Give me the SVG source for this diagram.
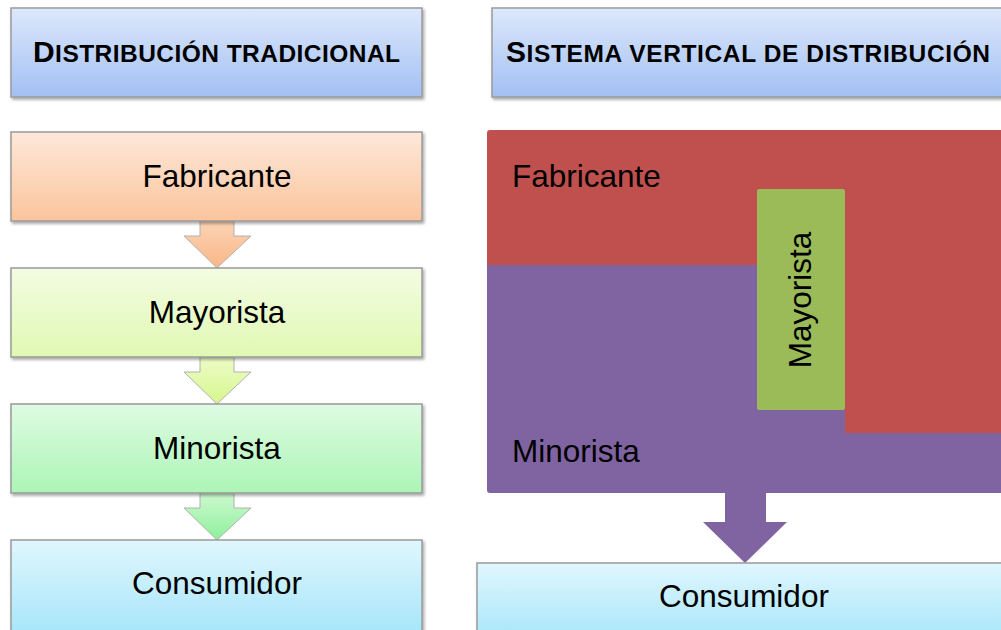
<svg xmlns="http://www.w3.org/2000/svg" width="1001" height="630" viewBox="0 0 1001 630">
<defs>
  <linearGradient id="gHead" x1="0" y1="0" x2="0" y2="1"><stop offset="0" stop-color="#dde8fb"/><stop offset="1" stop-color="#a3c0f3"/></linearGradient>
  <linearGradient id="gFab" x1="0" y1="0" x2="0" y2="1"><stop offset="0" stop-color="#fee8da"/><stop offset="1" stop-color="#fbc49c"/></linearGradient>
  <linearGradient id="gMay" x1="0" y1="0" x2="0" y2="1"><stop offset="0" stop-color="#f3fce3"/><stop offset="1" stop-color="#e0f9b2"/></linearGradient>
  <linearGradient id="gMin" x1="0" y1="0" x2="0" y2="1"><stop offset="0" stop-color="#dffbe3"/><stop offset="1" stop-color="#acf5b5"/></linearGradient>
  <linearGradient id="gCon" x1="0" y1="0" x2="0" y2="1"><stop offset="0" stop-color="#e0f7fd"/><stop offset="1" stop-color="#a5e5fa"/></linearGradient>
  <linearGradient id="gA1" x1="0" y1="0" x2="0" y2="1"><stop offset="0" stop-color="#fcd3b5"/><stop offset="1" stop-color="#f9b788"/></linearGradient>
  <linearGradient id="gA2" x1="0" y1="0" x2="0" y2="1"><stop offset="0" stop-color="#edfcc6"/><stop offset="1" stop-color="#d6f68e"/></linearGradient>
  <linearGradient id="gA3" x1="0" y1="0" x2="0" y2="1"><stop offset="0" stop-color="#cdf9cf"/><stop offset="1" stop-color="#8ef09c"/></linearGradient>
  <filter id="sh" x="-5%" y="-10%" width="110%" height="125%">
    <feDropShadow dx="1.5" dy="2" stdDeviation="1.5" flood-color="#000" flood-opacity="0.35"/>
  </filter>
</defs>
<style>
  .box{stroke:#9a9a9a;stroke-width:1.5;filter:url(#sh);}
  .arr{stroke:#b0b0b0;stroke-width:1;}
  .lbl{font-family:"Liberation Sans",Arial,sans-serif;font-size:31.5px;fill:#000;}
  .hd{font-family:"Liberation Sans",Arial,sans-serif;font-weight:bold;fill:#000;}
  .big{font-size:30px;}
  .sm{font-size:24.5px;}
</style>
<rect width="1001" height="630" fill="#ffffff"/>

<g id="header-left">
  <rect class="box" x="11" y="8" width="411" height="89" fill="url(#gHead)"/>
  <text class="hd" x="33" y="62" textLength="367" lengthAdjust="spacing"><tspan class="big">D</tspan><tspan class="sm">ISTRIBUCIÓN TRADICIONAL</tspan></text>
</g>

<g id="header-right">
  <rect class="box" x="492" y="8" width="516" height="89" fill="url(#gHead)"/>
  <text class="hd" x="506" y="62" textLength="484" lengthAdjust="spacing"><tspan class="big">S</tspan><tspan class="sm">ISTEMA VERTICAL DE DISTRIBUCIÓN</tspan></text>
</g>

<g id="connectors">
  <path class="arr" d="M200,221 H234 V236 H251 L217,268 L184,236 H200 Z" fill="url(#gA1)"/>
  <path class="arr" d="M200,357 H234 V372 H251 L217,404 L184,372 H200 Z" fill="url(#gA2)"/>
  <path class="arr" d="M200,493 H234 V508 H251 L217,540 L184,508 H200 Z" fill="url(#gA3)"/>
  <path d="M725,492 H766 V522 H787 L745,563 L703,522 H725 Z" fill="#8064a2"/>
</g>

<g id="fabricante-left">
  <rect class="box" x="11" y="132" width="411" height="89" fill="url(#gFab)"/>
  <text class="lbl" x="217" y="187" text-anchor="middle">Fabricante</text>
</g>
<g id="mayorista-left">
  <rect class="box" x="11" y="268" width="411" height="89" fill="url(#gMay)"/>
  <text class="lbl" x="217" y="323" text-anchor="middle">Mayorista</text>
</g>
<g id="minorista-left">
  <rect class="box" x="11" y="404" width="411" height="89" fill="url(#gMin)"/>
  <text class="lbl" x="217" y="459" text-anchor="middle">Minorista</text>
</g>
<g id="consumidor-left">
  <rect class="box" x="11" y="540" width="411" height="96" fill="url(#gCon)"/>
  <text class="lbl" x="217" y="594" text-anchor="middle">Consumidor</text>
</g>

<g id="minorista-right">
  <path d="M487,265 H1006 V493 H490 Q487,493 487,490 Z" fill="#8064a2"/>
  <text class="lbl" x="512" y="462">Minorista</text>
</g>
<g id="fabricante-right">
  <path d="M490,130 H1006 V433 H845 V265 H487 V133 Q487,130 490,130 Z" fill="#c0504d"/>
  <text class="lbl" x="512" y="187">Fabricante</text>
</g>
<g id="mayorista-right">
  <rect x="757" y="189" width="88" height="221" rx="2" fill="#9bbb59"/>
  <text class="lbl" x="811" y="300" text-anchor="middle" transform="rotate(-90 811 300)">Mayorista</text>
</g>
<g id="consumidor-right">
  <rect class="box" x="477" y="563" width="534" height="80" fill="url(#gCon)"/>
  <text class="lbl" x="744" y="607" text-anchor="middle">Consumidor</text>
</g>
</svg>
